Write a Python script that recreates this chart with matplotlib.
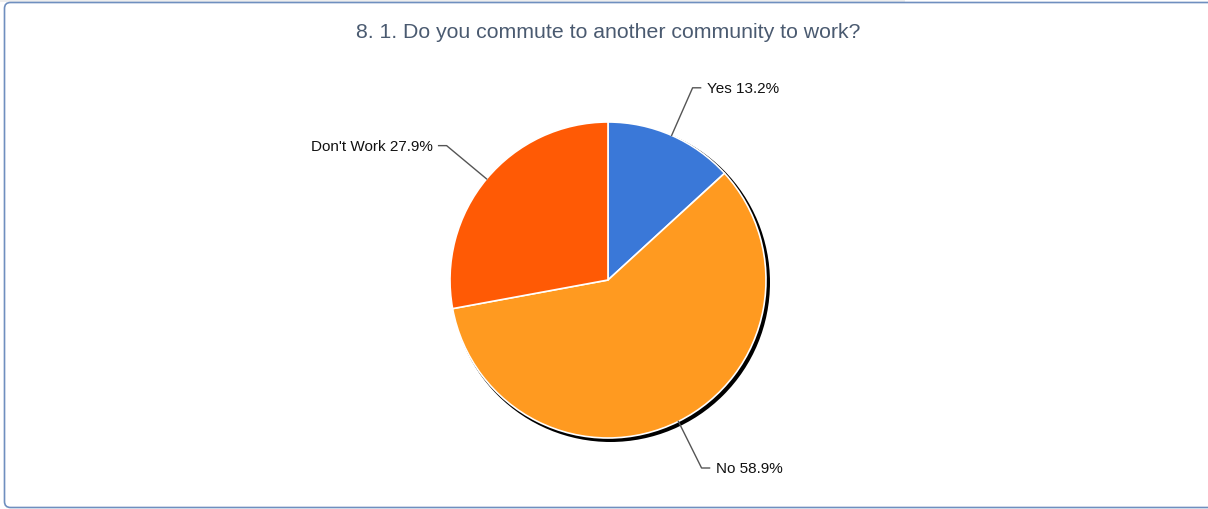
import numpy as np
import matplotlib.pyplot as plt
from matplotlib.patches import FancyBboxPatch, Circle, Rectangle

# 数据
labels = ['Yes', 'No', "Don't Work"]
values = [13.2, 58.9, 27.9]
colors = ['#3a78d8', '#ff9a20', '#ff5a05']
title = '8. 1. Do you commute to another community to work?'

W, H = 1208, 510
fig = plt.figure(figsize=(W / 100, H / 100), dpi=100)
ax = fig.add_axes([0, 0, 1, 1])

# 背景和边框
ax.add_patch(Rectangle((0, H - 3), 905, 3, facecolor='#eeeeee', edgecolor='none', zorder=0))
ax.add_patch(FancyBboxPatch((4.5, 1.5), W + 20, H - 5, boxstyle='round,pad=0,rounding_size=6',
                            facecolor='white', edgecolor='#6f8fbf', linewidth=1.2, zorder=1))

cx, cy, r = 608, H - 281, 158

# 阴影
ax.add_patch(Circle((cx + 2.5, cy - 2.5), r + 1.5, facecolor='black', edgecolor='none', zorder=2))

wedges, _ = ax.pie(values, colors=colors, startangle=90, counterclock=False,
                   center=(cx, cy), radius=r,
                   wedgeprops=dict(edgecolor='white', linewidth=1.2, zorder=3))
for w in wedges:
    w.set_zorder(3)

# 标签和引线
for w, lab, v in zip(wedges, labels, values):
    ang = np.deg2rad((w.theta1 + w.theta2) / 2)
    dx, dy = np.cos(ang), np.sin(ang)
    p0 = (cx + r * dx, cy + r * dy)
    p1 = (cx + (r + 52) * dx, cy + (r + 52) * dy)
    side = 1 if dx > 0 else -1
    p2 = (p1[0] + 8 * side, p1[1])
    ax.plot([p0[0], p1[0], p2[0]], [p0[1], p1[1], p2[1]], color='#555555', lw=1, zorder=4)
    ax.text(p2[0] + 6 * side, p2[1], '{} {:.1f}%'.format(lab, v), fontsize=11,
            family='Liberation Sans', color='#111111',
            ha='left' if side > 0 else 'right', va='center', zorder=5)

ax.text(608, H - 32, title, fontsize=15.3, family='Liberation Sans', color='#4a5a70',
        ha='center', va='center', zorder=5)

ax.set_xlim(0, W)
ax.set_ylim(0, H)
ax.set_aspect('auto')
ax.axis('off')
fig.savefig('out.png', dpi=100)
